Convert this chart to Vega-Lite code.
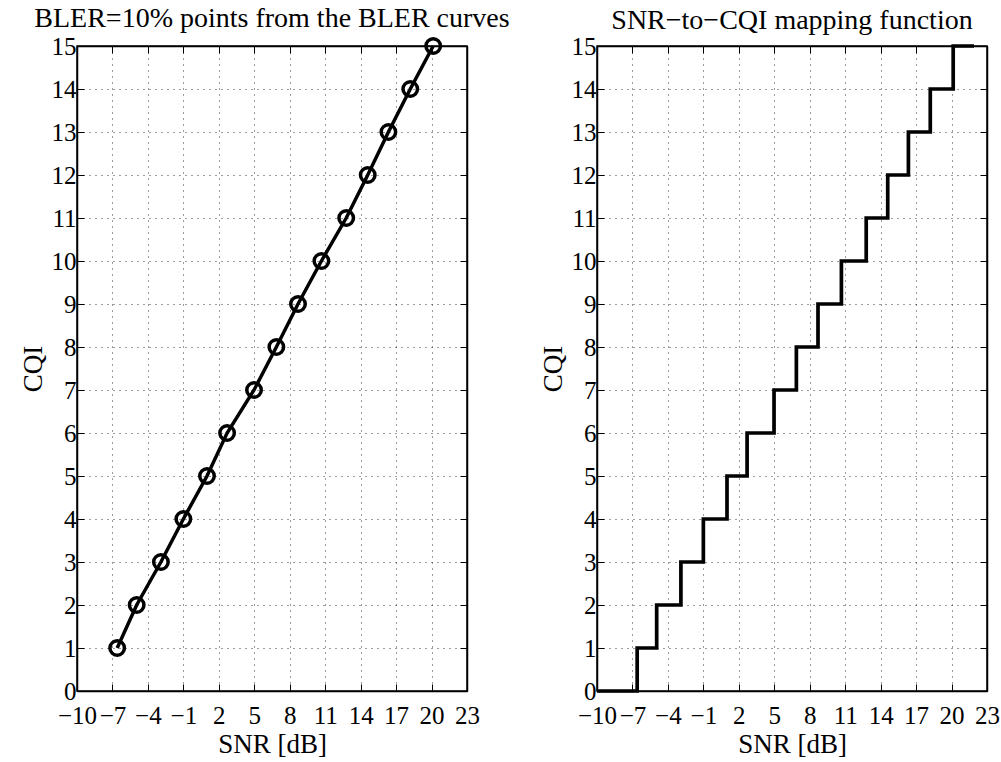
{
  "$schema": "https://vega.github.io/schema/vega-lite/v6.json",
  "background": "white",
  "padding": {"left": 18, "top": 4, "right": 5, "bottom": 5},
  "datasets": {
    "bler": [
      {"snr": -6.6, "cqi": 1},
      {"snr": -4.95, "cqi": 2},
      {"snr": -2.9, "cqi": 3},
      {"snr": -1.0, "cqi": 4},
      {"snr": 1.0, "cqi": 5},
      {"snr": 2.7, "cqi": 6},
      {"snr": 4.98, "cqi": 7},
      {"snr": 6.87, "cqi": 8},
      {"snr": 8.7, "cqi": 9},
      {"snr": 10.68, "cqi": 10},
      {"snr": 12.78, "cqi": 11},
      {"snr": 14.6, "cqi": 12},
      {"snr": 16.35, "cqi": 13},
      {"snr": 18.2, "cqi": 14},
      {"snr": 20.14, "cqi": 15}
    ],
    "map": [
      {"snr": -10, "cqi": 0},
      {"snr": -6.6, "cqi": 1},
      {"snr": -4.95, "cqi": 2},
      {"snr": -2.9, "cqi": 3},
      {"snr": -1.0, "cqi": 4},
      {"snr": 1.0, "cqi": 5},
      {"snr": 2.7, "cqi": 6},
      {"snr": 4.98, "cqi": 7},
      {"snr": 6.87, "cqi": 8},
      {"snr": 8.7, "cqi": 9},
      {"snr": 10.68, "cqi": 10},
      {"snr": 12.78, "cqi": 11},
      {"snr": 14.6, "cqi": 12},
      {"snr": 16.35, "cqi": 13},
      {"snr": 18.2, "cqi": 14},
      {"snr": 20.14, "cqi": 15},
      {"snr": 21.9, "cqi": 15}
    ]
  },
  "spacing": 27,
  "hconcat": [
    {
      "width": 390,
      "height": 645,
      "title": {"text": "BLER=10% points from the BLER curves"},
      "layer": [
        {
          "data": {"name": "bler"},
          "mark": {"type": "line", "color": "black", "strokeWidth": 3.5, "point": {"filled": false, "size": 210, "strokeWidth": 3.5, "color": "black"}},
          "encoding": {
            "x": {"field": "snr", "type": "quantitative", "scale": {"domain": [-10, 23], "nice": false, "zero": false}, "axis": {"title": "SNR [dB]", "values": [-10, -7, -4, -1, 2, 5, 8, 11, 14, 17, 20, 23], "grid": true, "labelPadding": 19, "titlePadding": 3}},
            "y": {"field": "cqi", "type": "quantitative", "scale": {"domain": [0, 15], "nice": false, "zero": false}, "axis": {"title": "CQI", "values": [0,1,2,3,4,5,6,7,8,9,10,11,12,13,14,15], "grid": true}}
          }
        },
        {
          "data": {"name": "bler"},
          "mark": {"type": "point", "opacity": 0},
          "encoding": {
            "x": {"field": "snr", "type": "quantitative", "axis": {"orient": "top", "title": null, "labels": false, "grid": false, "values": [-10, -7, -4, -1, 2, 5, 8, 11, 14, 17, 20, 23]}},
            "y": {"field": "cqi", "type": "quantitative", "axis": {"orient": "right", "title": null, "labels": false, "grid": false, "values": [0,1,2,3,4,5,6,7,8,9,10,11,12,13,14,15]}}
          }
        }
      ],
      "resolve": {"axis": {"x": "independent", "y": "independent"}}
    },
    {
      "width": 390,
      "height": 645,
      "title": {"text": "SNR−to−CQI mapping function"},
      "layer": [
        {
          "data": {"name": "map"},
          "mark": {"type": "line", "color": "black", "strokeWidth": 3.7, "interpolate": "step-after"},
          "encoding": {
            "x": {"field": "snr", "type": "quantitative", "scale": {"domain": [-10, 23], "nice": false, "zero": false}, "axis": {"title": "SNR [dB]", "values": [-10, -7, -4, -1, 2, 5, 8, 11, 14, 17, 20, 23], "grid": true, "labelPadding": 19, "titlePadding": 3}},
            "y": {"field": "cqi", "type": "quantitative", "scale": {"domain": [0, 15], "nice": false, "zero": false}, "axis": {"title": "CQI", "values": [0,1,2,3,4,5,6,7,8,9,10,11,12,13,14,15], "grid": true}}
          }
        },
        {
          "data": {"name": "map"},
          "mark": {"type": "point", "opacity": 0},
          "encoding": {
            "x": {"field": "snr", "type": "quantitative", "axis": {"orient": "top", "title": null, "labels": false, "grid": false, "values": [-10, -7, -4, -1, 2, 5, 8, 11, 14, 17, 20, 23]}},
            "y": {"field": "cqi", "type": "quantitative", "axis": {"orient": "right", "title": null, "labels": false, "grid": false, "values": [0,1,2,3,4,5,6,7,8,9,10,11,12,13,14,15]}}
          }
        }
      ],
      "resolve": {"axis": {"x": "independent", "y": "independent"}}
    }
  ],
  "config": {
    "font": "Liberation Serif",
    "view": {"stroke": "black", "strokeWidth": 1.5},
    "axis": {
      "domainColor": "black",
      "domainWidth": 1.5,
      "tickColor": "black",
      "tickWidth": 1,
      "tickSize": -7,
      "labelFont": "Liberation Serif",
      "labelFontSize": 25,
      "labelColor": "black",
      "labelPadding": 8,
      "labelOverlap": false,
      "labelFlush": false,
      "titleFont": "Liberation Serif",
      "titleFontSize": 27,
      "titleFontWeight": "normal",
      "titleColor": "black",
      "gridColor": "#222222",
      "gridDash": [1, 5],
      "gridWidth": 1,
      "gridOpacity": 0.9
    },
    "title": {"font": "Liberation Serif", "fontSize": 28, "fontWeight": "normal", "color": "black", "offset": -1}
  }
}
